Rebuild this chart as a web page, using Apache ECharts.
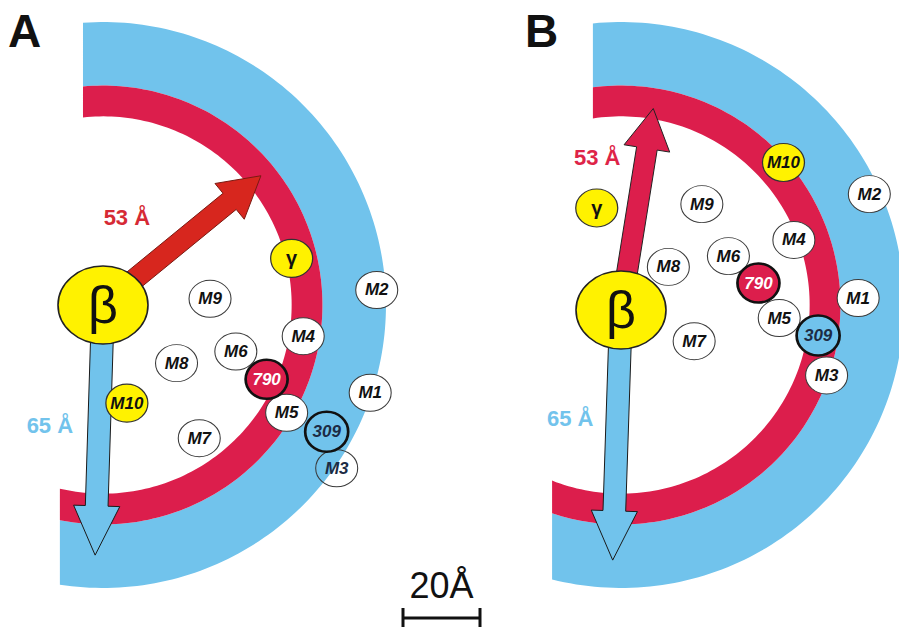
<!DOCTYPE html>
<html><head><meta charset="utf-8">
<script src="https://cdn.jsdelivr.net/npm/echarts@6/dist/echarts.min.js"></script>
<style>html,body{margin:0;padding:0;background:#fff}#c{width:899px;height:627px}</style>
</head><body><div id="c"></div>
<script>
// ---------------- data (distances in Å) ----------------
const panels = ['A', 'B'];
const bandNames = ['65 Å band', '53 Å band'];
const bandInner = [57, 49];
const bandOuter = [73.5, 57];
const distLabels = ['53 Å', '65 Å'];
const distValues = [53, 65];
const arrowAnglesA = [39.3, -91.8];
const arrowAnglesB = [80.9, -91.9];
const siteNames = ['β', 'γ', 'M1', 'M2', 'M4', 'M5', 'M6', 'M7', 'M8', 'M9', 'M10', '790', 'M3', '309'];
const siteXA = [0, 49.0, 69.4, 71.1, 52.0, 47.7, 34.5, 25.0, 19.1, 27.8, 6.2, 42.5, 60.7, 58.1];
const siteYA = [0, 12.1, -22.8, 3.9, -8.1, -28.0, -12.1, -34.6, -15.1, 1.6, -25.5, -19.3, -42.4, -32.9];
const siteXB = [0, -6.3, 61.6, 64.5, 44.9, 41.1, 27.9, 19.0, 12.3, 21.0, 42.2, 35.7, 53.4, 51.2];
const siteYB = [0, 26.5, 3.1, 30.1, 18.2, -2.1, 14.0, -8.1, 11.2, 27.5, 38.3, 7.0, -17.0, -6.6];
const scaleBarLabel = '20Å';
const scaleBarValue = 20;

// ---------------- layout / style ----------------
const W = 899, H = 627, S = 3.85; // px per Å
const FONT = '"Liberation Sans", Arial, Helvetica, sans-serif';
const BLUE = '#71c3ec', CRIMSON = '#dc1e4c', YELLOW = '#fff200';
// ends of the bands are cut vertically: xTop for the upper end, xBot for the lower end (Å from the ring centre)
const layout = {
  A: { origin: [103, 305], ringShift: [0, 0], xTop: -5.2, xBot: -11.2, labelPos: [[6.2, 22.6], [-13.8, -31.4]],
       redArrow: '#d7261e', redStroke: '#7a1a12', redText: '#d62a35' },
  B: { origin: [621, 310], ringShift: [0, 1.3], xTop: -7.3, xBot: -17.9, labelPos: [[-6.2, 39.7], [-13.2, -28.1]],
       redArrow: CRIMSON, redStroke: '#222', redText: '#de2448' }
};
const bandColors = [BLUE, CRIMSON];
const arrowShaft = [5.4, 5.9], arrowHeadW = [12, 12], arrowHeadL = [10.5, 12.8];
const scaleBarPos = [403 / S, (H - 618) / S];

function org(p) { const o = layout[panels[p]].origin; return [o[0] / S, (H - o[1]) / S]; }

function renderBand(params, api) {
  const p = api.value(0), r0 = api.value(1), r1 = api.value(2), i = api.value(3);
  const lay = layout[panels[p]];
  const o0 = org(p), o = [o0[0] + lay.ringShift[0], o0[1] + lay.ringShift[1]];
  const topAng = r => Math.atan2(Math.sqrt(r * r - lay.xTop * lay.xTop), lay.xTop);
  const botAng = r => Math.atan2(-Math.sqrt(r * r - lay.xBot * lay.xBot), lay.xBot);
  const pts = [], N = 160;
  const a1 = topAng(r1), a2 = botAng(r1);
  for (let k = 0; k <= N; k++) {
    const a = a1 + (a2 - a1) * k / N;
    pts.push(api.coord([o[0] + r1 * Math.cos(a), o[1] + r1 * Math.sin(a)]));
  }
  const b1 = botAng(r0), b2 = topAng(r0);
  for (let k = 0; k <= N; k++) {
    const a = b1 + (b2 - b1) * k / N;
    pts.push(api.coord([o[0] + r0 * Math.cos(a), o[1] + r0 * Math.sin(a)]));
  }
  return { type: 'polygon', shape: { points: pts }, style: { fill: bandColors[i] } };
}

function renderArrow(params, api) {
  const p = api.value(0), ang = api.value(1) * Math.PI / 180, L = api.value(2), i = api.value(3);
  const o = org(p), lay = layout[panels[p]];
  const w = arrowShaft[i] / 2, hw = arrowHeadW[i] / 2, hl = arrowHeadL[i];
  const ux = Math.cos(ang), uy = Math.sin(ang), nx = -uy, ny = ux;
  const P = (a, b) => api.coord([o[0] + ux * a + nx * b, o[1] + uy * a + ny * b]);
  const pts = [P(0, w), P(L - hl, w), P(L - hl, hw), P(L, 0), P(L - hl, -hw), P(L - hl, -w), P(0, -w)];
  const lp = lay.labelPos[i];
  const tp = api.coord([o[0] + lp[0], o[1] + lp[1]]);
  return { type: 'group', children: [
    { type: 'polygon', shape: { points: pts },
      style: { fill: i === 0 ? lay.redArrow : BLUE, stroke: i === 0 ? lay.redStroke : '#1a1a1a', lineWidth: 1 } },
    { type: 'text', x: tp[0], y: tp[1],
      style: { text: distLabels[i], fill: i === 0 ? lay.redText : '#72c3ec', fontSize: 22, fontWeight: 'bold',
               fontFamily: FONT, align: 'center', verticalAlign: 'middle' } }
  ] };
}

function renderScale(params, api) {
  const v = api.value(0);
  const a = api.coord([scaleBarPos[0], scaleBarPos[1]]);
  const b = api.coord([scaleBarPos[0] + v, scaleBarPos[1]]);
  const st = { stroke: '#111', lineWidth: 3 };
  return { type: 'group', children: [
    { type: 'line', shape: { x1: a[0], y1: a[1], x2: b[0], y2: b[1] }, style: st },
    { type: 'line', shape: { x1: a[0], y1: a[1] - 10, x2: a[0], y2: a[1] + 10 }, style: st },
    { type: 'line', shape: { x1: b[0], y1: b[1] - 10, x2: b[0], y2: b[1] + 10 }, style: st },
    { type: 'text', x: (a[0] + b[0]) / 2, y: a[1] - 33,
      style: { text: scaleBarLabel, fill: '#111', fontSize: 36, fontFamily: FONT, align: 'center', verticalAlign: 'middle' } }
  ] };
}

function siteStyle(n, panel) {
  const base = { size: [42, 37], fill: '#fff', stroke: '#3a3a3a', bw: 1, text: '#111', fs: 17, fw: 'bold', it: 'italic' };
  if (n === 'β') return Object.assign(base, { size: [90, 78], fill: YELLOW, stroke: '#222', bw: 1.5, fs: 52, fw: 'normal', it: 'normal' });
  if (n === 'γ') return Object.assign(base, { size: [42, 38], fill: YELLOW, stroke: '#333', bw: 1.2, fs: 20, it: 'normal' });
  if (n === 'M10') return Object.assign(base, { size: [42, 38], fill: YELLOW, stroke: '#333', bw: 1.2 });
  if (n === '790') return Object.assign(base, { size: [42, 39], fill: CRIMSON, stroke: '#111', bw: 2.6, text: '#fff' });
  if (n === '309') return Object.assign(base, { size: [43, 40], fill: BLUE, stroke: '#111', bw: 2.6, text: '#1c2b44' });
  if (n === 'M3' && panel === 'A') return Object.assign(base, { fill: 'rgba(255,255,255,0)', text: '#1c2b44' });
  return base;
}

function siteItems(p, xs, ys) {
  const o = org(p);
  return siteNames.map((n, j) => {
    const st = siteStyle(n, panels[p]);
    return { name: n, value: [o[0] + xs[j], o[1] + ys[j]], symbolSize: st.size,
      itemStyle: { color: st.fill, borderColor: st.stroke, borderWidth: st.bw, opacity: 1 },
      label: { color: st.text, fontSize: st.fs, fontStyle: st.it, fontWeight: st.fw } };
  });
}

const bandData = [], arrowData = [];
panels.forEach((pn, p) => {
  bandNames.forEach((bn, i) => bandData.push({ name: pn + ' ' + bn, value: [p, bandInner[i], bandOuter[i], i] }));
  const angs = p === 0 ? arrowAnglesA : arrowAnglesB;
  distValues.forEach((d, i) => arrowData.push({ name: pn + ' ' + distLabels[i], value: [p, angs[i], d, i] }));
});

const ELLIPSE = 'path://M0 50A50 50 0 1 1 100 50A50 50 0 1 1 0 50Z';
const chart = echarts.init(document.getElementById('c'), null, { renderer: 'svg' });
const siteSeries = (name, data) => ({
  type: 'scatter', name, z: 3, symbol: ELLIPSE, data, silent: true,
  itemStyle: { opacity: 1 }, emphasis: { disabled: true },
  label: { show: true, position: 'inside', formatter: '{b}', fontFamily: FONT }
});
const letterStyle = { fontSize: 46, fontWeight: 'bold', fontFamily: FONT, color: '#111' };
chart.setOption({
  animation: false,
  backgroundColor: '#fff',
  title: [
    { text: 'A', left: 3, top: 3, textStyle: letterStyle },
    { text: 'B', left: 520, top: 3, textStyle: letterStyle }
  ],
  grid: { left: 0, right: 0, top: 0, bottom: 0, containLabel: false },
  xAxis: { type: 'value', min: 0, max: W / S, show: false },
  yAxis: { type: 'value', min: 0, max: H / S, show: false },
  tooltip: { show: false },
  series: [
    { type: 'custom', name: 'bands', z: 1, renderItem: renderBand, data: bandData, silent: true },
    { type: 'custom', name: 'arrows', z: 2, renderItem: renderArrow, data: arrowData, silent: true },
    siteSeries('A sites', siteItems(0, siteXA, siteYA)),
    siteSeries('B sites', siteItems(1, siteXB, siteYB)),
    { type: 'custom', name: 'scale bar', z: 4, renderItem: renderScale, data: [[scaleBarValue, 0]], silent: true }
  ]
});
</script></body></html>
